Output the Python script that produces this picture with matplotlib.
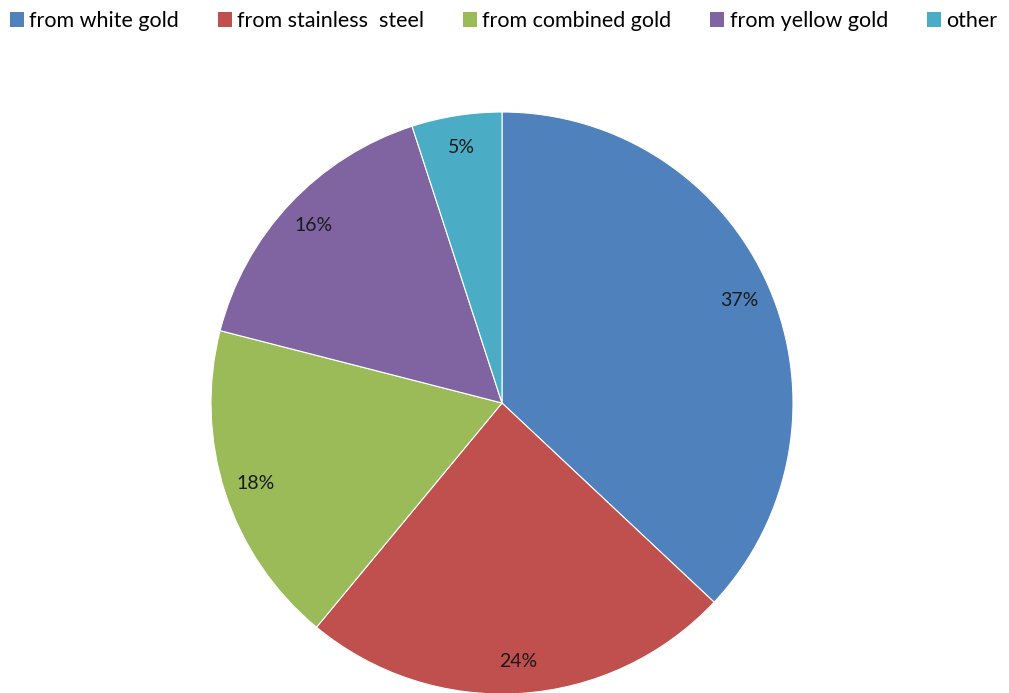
import matplotlib.pyplot as plt
from matplotlib.patches import Patch

plt.rcParams['font.family'] = ['Lato', 'DejaVu Sans']

labels = ["from white gold", "from stainless  steel", "from combined gold", "from yellow gold", "other"]
shares = [37, 24, 18, 16, 5]
colors = ["#4F81BD", "#C0504D", "#9BBB59", "#8064A2", "#4BACC6"]

fig = plt.figure(figsize=(10.09, 6.93), dpi=100)
fig.set_facecolor("white")

# pie centred at (502, 403) px from top-left, radius 291 px
W, H = 1009, 693
cx, cy, r = 502, H - 403, 291
ax = fig.add_axes([(cx - r) / W, (cy - r) / H, 2 * r / W, 2 * r / H])

wedges, texts, autotexts = ax.pie(
    shares, colors=colors, startangle=90, counterclock=False,
    autopct='%1.0f%%', pctdistance=0.89,
    wedgeprops={'edgecolor': 'white', 'linewidth': 0.8},
    textprops={'fontsize': 14, 'color': '#1a1a1a'})
for w in wedges:
    w.set_clip_on(False)
ax.set_xlim(-1, 1)
ax.set_ylim(-1, 1)
ax.set_aspect('equal')
ax.axis('off')

handles = [Patch(facecolor=c, edgecolor='none') for c in colors]
fig.legend(handles, labels, loc='upper left', bbox_to_anchor=(0.010, 0.984),
           ncol=5, frameon=False, fontsize=15.5, handlelength=0.65, handleheight=0.65,
           handletextpad=0.25, columnspacing=1.8, borderaxespad=0, borderpad=0)

plt.savefig('out.png', dpi=100)
